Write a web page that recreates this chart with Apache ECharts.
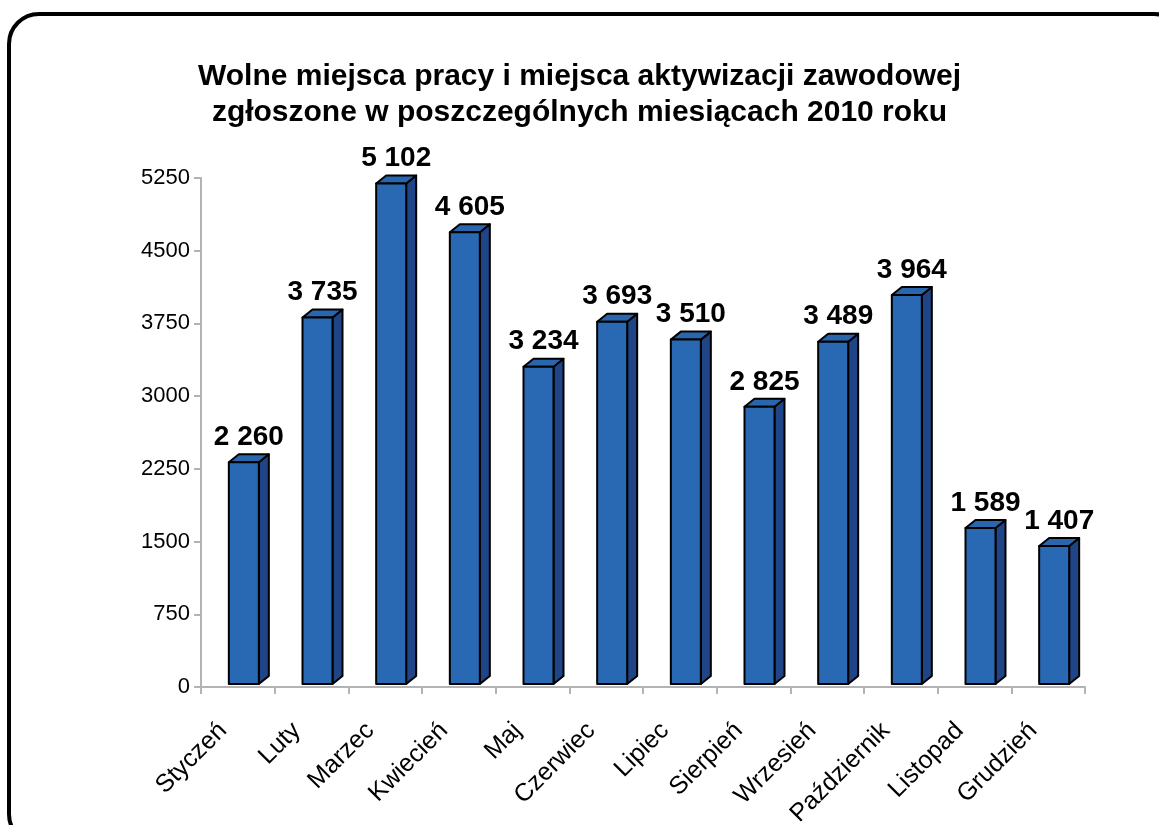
<!DOCTYPE html>
<html>
<head>
<meta charset="utf-8">
<script src="https://cdn.jsdelivr.net/npm/echarts@6/dist/echarts.min.js"></script>
<style>
  html, body { margin: 0; padding: 0; background: #fff; }
  #chart { width: 1159px; height: 825px; }
</style>
</head>
<body>
<div id="chart"></div>
<script>
// dane z wykresu
const months = ['Styczeń', 'Luty', 'Marzec', 'Kwiecień', 'Maj', 'Czerwiec', 'Lipiec',
  'Sierpień', 'Wrzesień', 'Październik', 'Listopad', 'Grudzień']
const offers = [2260, 3735, 5102, 4605, 3234, 3693, 3510, 2825, 3489, 3964, 1589, 1407]
const yTicks = { min: 0, max: 5250, step: 750 }

const titleText = 'Wolne miejsca pracy i miejsca aktywizacji zawodowej\nzgłoszone w poszczególnych miesiącach 2010 roku'
const font = '"Liberation Sans", Arial, sans-serif'

// kolory słupka 3D
const frontColor = '#2969B3'
const sideColor = '#1F4586'
const topColor = '#2A66AE'

const fmt = v => String(v).replace(/\B(?=(\d{3})+(?!\d))/g, ' ')

const chart = echarts.init(document.getElementById('chart'))

// słupek z przodem, bokiem i górą
const renderBar = (params, api) => {
  const idx = api.value(0)
  const val = api.value(1)
  const base = api.coord([idx, 0])
  const top = api.coord([idx, val])
  const cx = base[0]
  const x0 = cx - 9
  const x1 = cx + 21
  const yb = base[1] - 3
  const yt = top[1] - 3 - (base[1] - top[1]) * 0.012
  const dx = 10
  const dy = -8
  const stroke = { stroke: '#000', lineWidth: 2, lineJoin: 'round' }
  return {
    type: 'group',
    children: [
      {
        type: 'polygon',
        shape: { points: [[x1, yb], [x1 + dx, yb + dy], [x1 + dx, yt + dy], [x1, yt]] },
        style: Object.assign({ fill: sideColor }, stroke)
      },
      {
        type: 'polygon',
        shape: { points: [[x0, yt], [x1, yt], [x1 + dx, yt + dy], [x0 + dx, yt + dy]] },
        style: Object.assign({ fill: topColor }, stroke)
      },
      {
        type: 'rect',
        shape: { x: x0, y: yt, width: x1 - x0, height: yb - yt },
        style: Object.assign({ fill: frontColor }, stroke)
      },
      {
        type: 'text',
        style: {
          x: (x0 + x1 + dx) / 2,
          y: yt - 25,
          text: fmt(val),
          fill: '#000',
          font: 'bold 28px ' + font,
          align: 'center',
          verticalAlign: 'middle'
        }
      }
    ]
  }
}

const option = {
  animation: false,
  backgroundColor: '#fff',
  title: {
    text: titleText,
    left: 'center',
    top: 54,
    textStyle: {
      fontFamily: font,
      fontWeight: 'bold',
      fontSize: 30,
      lineHeight: 36,
      color: '#000'
    }
  },
  graphic: [
    {
      type: 'rect',
      shape: { x: 9, y: 14, width: 1175, height: 830, r: 30 },
      style: { fill: 'none', stroke: '#000', lineWidth: 4 },
      silent: true
    }
  ],
  grid: {
    left: 201,
    right: 74,
    top: 178,
    bottom: 138,
    containLabel: false,
    outerBoundsMode: 'none'
  },
  xAxis: {
    type: 'category',
    data: months,
    boundaryGap: true,
    axisLine: { lineStyle: { color: '#B3B3B3', width: 2 } },
    axisTick: { show: true, alignWithLabel: false, length: 7, lineStyle: { color: '#B3B3B3', width: 2 } },
    axisLabel: {
      interval: 0,
      rotate: 45,
      margin: 25,
      padding: [0, 21, 0, 0],
      color: '#000',
      fontSize: 25,
      fontFamily: font
    }
  },
  yAxis: {
    type: 'value',
    min: yTicks.min,
    max: yTicks.max,
    interval: yTicks.step,
    splitLine: { show: false },
    axisLine: { show: true, lineStyle: { color: '#B3B3B3', width: 2 } },
    axisTick: { show: true, length: 7, lineStyle: { color: '#B3B3B3', width: 2 } },
    axisLabel: {
      margin: 11,
      color: '#000',
      fontSize: 22,
      fontFamily: font,
      formatter: v => String(v)
    }
  },
  series: [
    {
      type: 'custom',
      renderItem: renderBar,
      encode: { x: 0, y: 1 },
      data: offers.map((v, i) => [i, v]),
      clip: false
    }
  ]
}

chart.setOption(option)
</script>
</body>
</html>
